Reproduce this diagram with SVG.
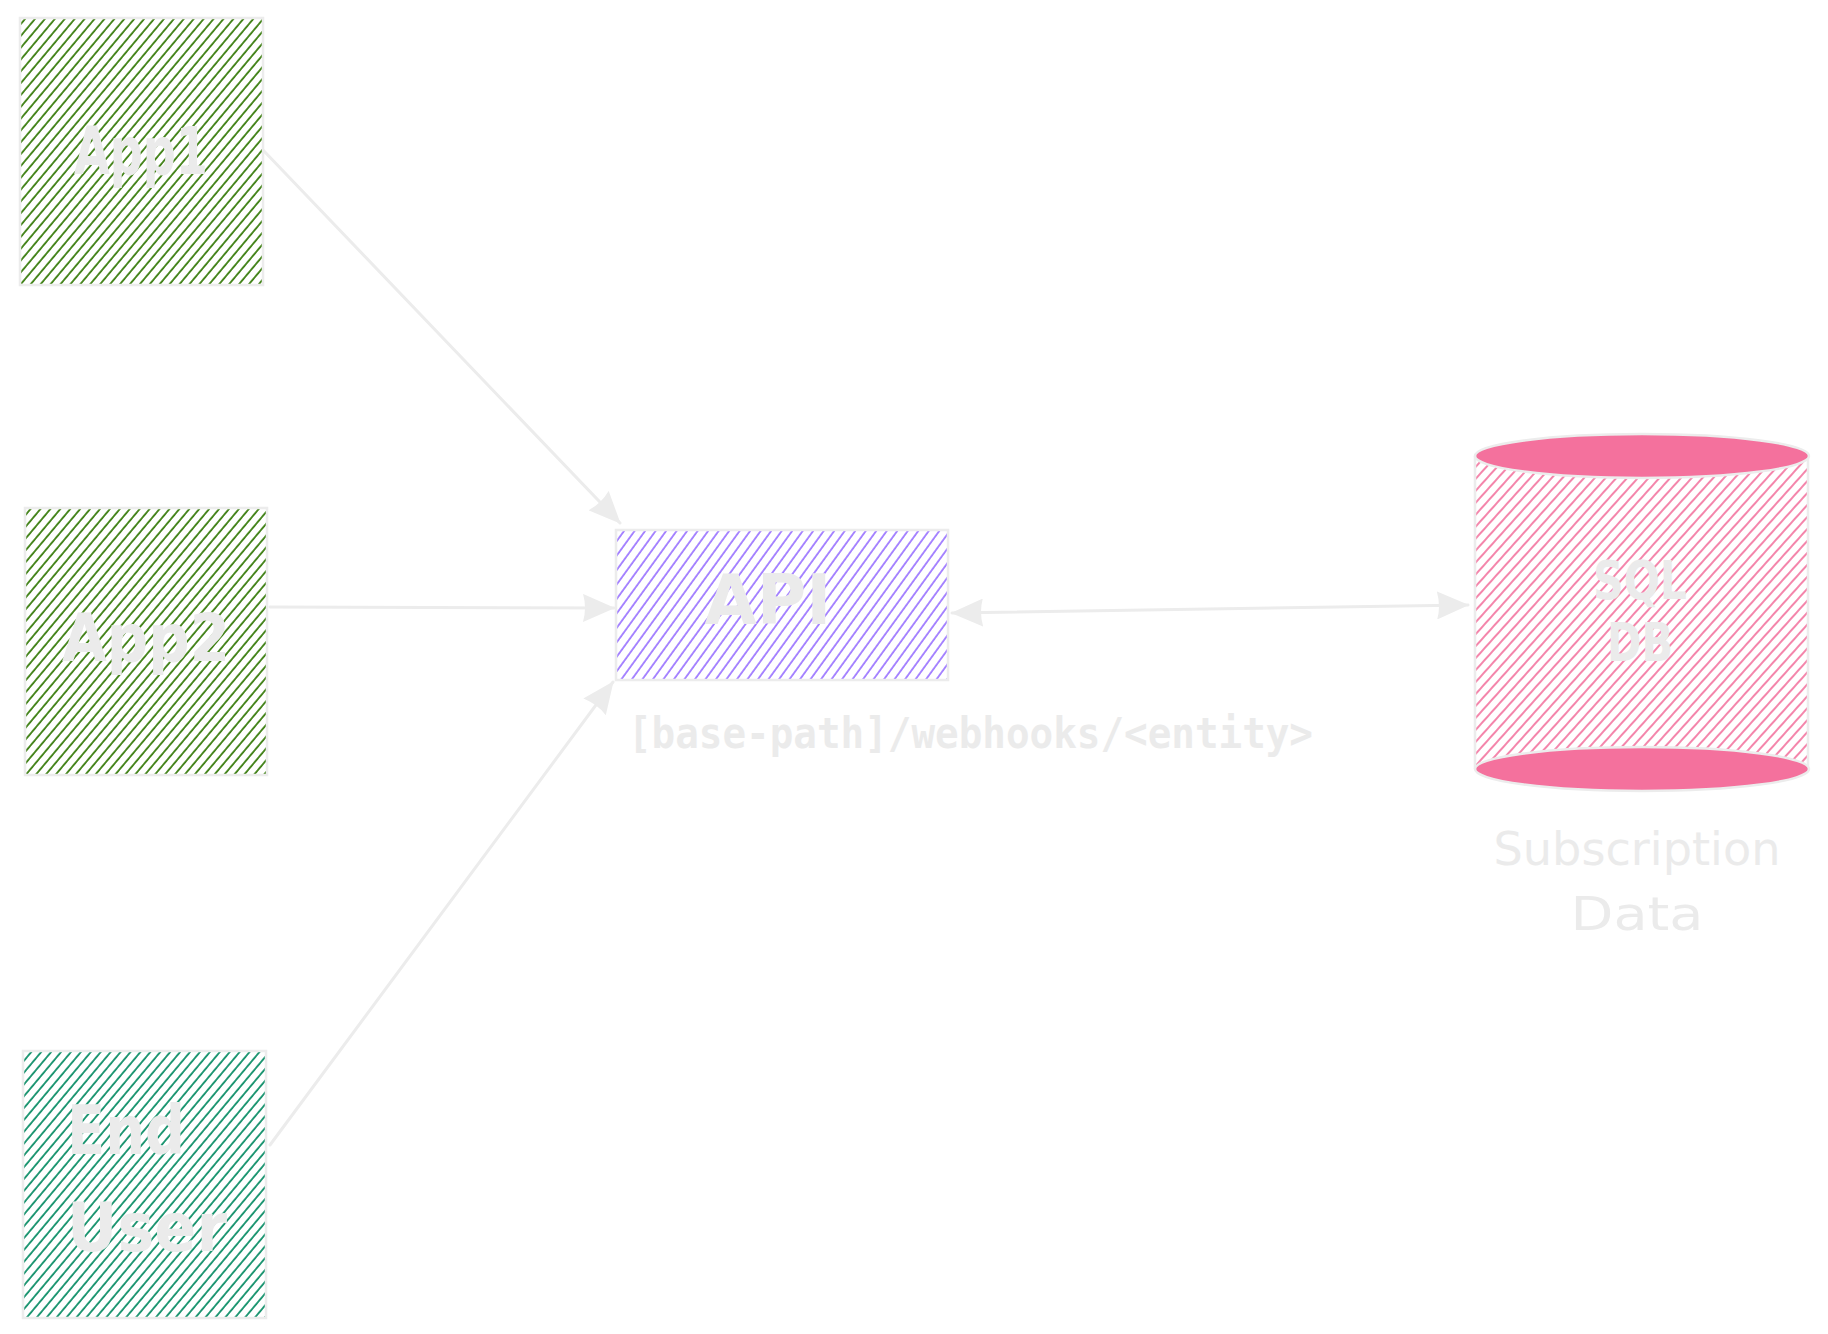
<svg xmlns="http://www.w3.org/2000/svg" width="1828" height="1334" viewBox="0 0 1828 1334">
  <style>
    .box { stroke: #ececec; stroke-width: 2.5; }
    .lbl { fill: #ebebeb; font-family: "DejaVu Sans", "Liberation Sans", sans-serif; text-anchor: middle; }
    .nl { font-weight: bold; }
    .conn { stroke: #ececec; stroke-width: 3; fill: none; stroke-linecap: round; }
    .mono { fill: #ebebeb; font-family: "DejaVu Sans Mono", "Liberation Mono", monospace; font-weight: bold; }
  </style>
  <defs>
    <pattern id="hGreen" width="7.6" height="20" patternUnits="userSpaceOnUse" patternTransform="rotate(40)">
      <line x1="1" y1="0" x2="1" y2="20" stroke="#3d7f12" stroke-width="1.8"/>
    </pattern>
    <pattern id="hTeal" width="7.6" height="20" patternUnits="userSpaceOnUse" patternTransform="rotate(40)">
      <line x1="1" y1="0" x2="1" y2="20" stroke="#13916b" stroke-width="1.8"/>
    </pattern>
    <pattern id="hPurple" width="8.5" height="20" patternUnits="userSpaceOnUse" patternTransform="rotate(36)">
      <line x1="1" y1="0" x2="1" y2="20" stroke="#a07cff" stroke-width="1.8"/>
    </pattern>
    <pattern id="hPink" width="8" height="20" patternUnits="userSpaceOnUse" patternTransform="rotate(42)">
      <line x1="1" y1="0" x2="1" y2="20" stroke="#f2709c" stroke-width="1.7"/>
    </pattern>
    <marker id="arr" viewBox="0 0 32 28" refX="31" refY="14" markerWidth="32" markerHeight="28" markerUnits="userSpaceOnUse" orient="auto-start-reverse">
      <path d="M0,0 L32,14 L0,28 Q4,14 0,0 z" fill="#ececec"/>
    </marker>
  </defs>

  <rect width="1828" height="1334" fill="#ffffff"/>

  <g id="connectors">
    <path class="conn" d="M263,150 L620,523" marker-end="url(#arr)"/>
    <path class="conn" d="M270,607 L614,608" marker-end="url(#arr)"/>
    <path class="conn" d="M270,1145 L613,682" marker-end="url(#arr)"/>
    <path class="conn" d="M952,613 L1468,605" marker-start="url(#arr)" marker-end="url(#arr)"/>
  </g>

  <g id="app1">
    <rect class="box" x="20" y="18" width="243" height="267" fill="url(#hGreen)"/>
    <text class="lbl nl" x="141" y="174" font-size="66" textLength="134" lengthAdjust="spacingAndGlyphs">App1</text>
  </g>

  <g id="app2">
    <rect class="box" x="25" y="508" width="242" height="267" fill="url(#hGreen)"/>
    <text class="lbl nl" x="146" y="661" font-size="66" textLength="168" lengthAdjust="spacingAndGlyphs">App2</text>
  </g>

  <g id="enduser">
    <rect class="box" x="23" y="1051" width="243" height="267" fill="url(#hTeal)"/>
    <text class="lbl nl" x="126" y="1154" font-size="68" textLength="118" lengthAdjust="spacingAndGlyphs">End</text>
    <text class="lbl nl" x="147" y="1251" font-size="68" textLength="160" lengthAdjust="spacingAndGlyphs">User</text>
  </g>

  <g id="api">
    <rect class="box" x="616" y="530" width="332" height="150" fill="url(#hPurple)"/>
    <text class="lbl nl" x="768" y="624" font-size="70" textLength="127" lengthAdjust="spacingAndGlyphs">API</text>
    <text class="mono" x="628" y="748" font-size="42" textLength="685" lengthAdjust="spacingAndGlyphs">[base-path]/webhooks/&lt;entity&gt;</text>
  </g>

  <g id="sqldb">
    <rect x="1475" y="456" width="333" height="313" fill="url(#hPink)"/>
    <line x1="1475" y1="456" x2="1475" y2="769" stroke="#ececec" stroke-width="2.5"/>
    <line x1="1808" y1="456" x2="1808" y2="769" stroke="#ececec" stroke-width="2.5"/>
    <ellipse cx="1642" cy="769" rx="167" ry="22" fill="#f4719d" stroke="#ececec" stroke-width="2.5"/>
    <ellipse cx="1642" cy="456" rx="167" ry="22" fill="#f4719d" stroke="#ececec" stroke-width="2.5"/>
    <text class="lbl nl" x="1640" y="599" font-size="54" textLength="94" lengthAdjust="spacingAndGlyphs">SQL</text>
    <text class="lbl nl" x="1640" y="661" font-size="54" textLength="66" lengthAdjust="spacingAndGlyphs">DB</text>
    <text class="lbl" x="1637" y="865" font-size="46" textLength="287" lengthAdjust="spacingAndGlyphs">Subscription</text>
    <text class="lbl" x="1637" y="930" font-size="46" textLength="133" lengthAdjust="spacingAndGlyphs">Data</text>
  </g>
</svg>
